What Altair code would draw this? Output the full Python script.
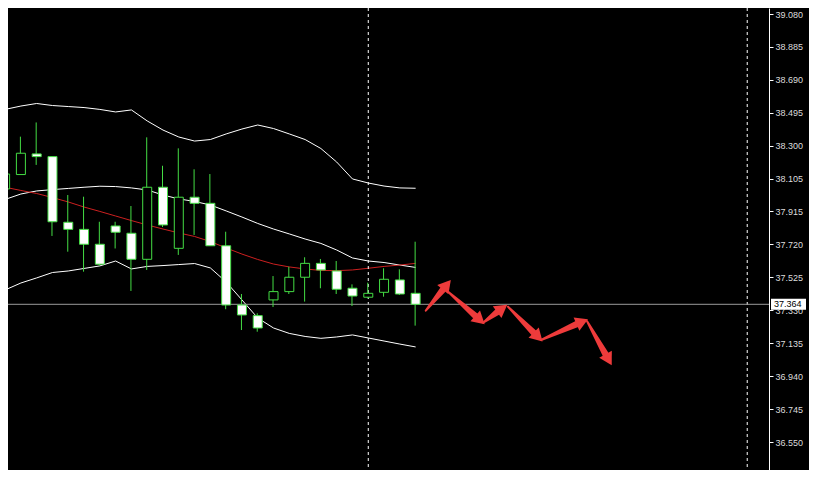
import math
import altair as alt
import pandas as pd

# ---------------- data ----------------
bar_index = list(range(27))
opens  = [38.046, 38.131, 38.253, 38.237, 37.849, 37.807, 37.719, 37.827, 37.784, 37.630,
          38.056, 37.695, 37.997, 37.961, 37.710, 37.360, 37.297, 37.390, 37.439, 37.524,
          37.606, 37.561, 37.459, 37.406, 37.435, 37.508, 37.429]
highs  = [38.170, 38.355, 38.439, 38.237, 38.010, 38.000, 37.852, 37.852, 37.945, 38.351,
          38.183, 38.286, 38.162, 38.134, 37.793, 37.425, 37.311, 37.531, 37.586, 37.642,
          37.632, 37.620, 37.482, 37.492, 37.577, 37.571, 37.734]
lows   = [38.028, 38.131, 38.188, 37.768, 37.675, 37.557, 37.593, 37.694, 37.443, 37.567,
          37.821, 37.656, 37.774, 37.710, 37.335, 37.212, 37.202, 37.348, 37.425, 37.380,
          37.459, 37.425, 37.354, 37.400, 37.409, 37.419, 37.238]
closes = [38.134, 38.257, 38.237, 37.852, 37.807, 37.719, 37.601, 37.790, 37.630, 38.056,
          37.833, 37.997, 37.961, 37.710, 37.360, 37.301, 37.224, 37.439, 37.524, 37.606,
          37.567, 37.453, 37.413, 37.429, 37.512, 37.425, 37.364]

bb_upper  = [38.516, 38.536, 38.551, 38.539, 38.533, 38.527, 38.516, 38.501, 38.513, 38.448,
             38.394, 38.353, 38.329, 38.338, 38.371, 38.400, 38.424, 38.403, 38.371, 38.338,
             38.285, 38.205, 38.105, 38.081, 38.063, 38.052, 38.050]
bb_middle = [37.984, 38.016, 38.034, 38.042, 38.049, 38.056, 38.062, 38.060, 38.052, 38.040,
             38.010, 37.987, 37.972, 37.951, 37.916, 37.880, 37.842, 37.809, 37.780, 37.750,
             37.724, 37.685, 37.638, 37.620, 37.611, 37.596, 37.582]
bb_lower  = [37.449, 37.490, 37.520, 37.552, 37.561, 37.576, 37.591, 37.620, 37.573, 37.588,
             37.593, 37.599, 37.605, 37.579, 37.496, 37.390, 37.283, 37.224, 37.192, 37.174,
             37.163, 37.171, 37.183, 37.165, 37.147, 37.129, 37.112]
ma_red    = [38.056, 38.037, 38.019, 37.995, 37.969, 37.939, 37.913, 37.886, 37.859, 37.833,
             37.809, 37.786, 37.765, 37.735, 37.697, 37.661, 37.629, 37.602, 37.585, 37.573,
             37.564, 37.563, 37.567, 37.577, 37.588, 37.596, 37.606]

tick_values = [39.080, 38.885, 38.690, 38.495, 38.300, 38.105, 37.915, 37.720,
               37.525, 37.330, 37.135, 36.940, 36.745, 36.550]
current_price = 37.364
separators = [23, 47]

arrow_tail_x = [26.64, 28.04, 30.27, 31.85, 33.94, 36.85]
arrow_tail_y = [37.326, 37.439, 37.255, 37.350, 37.153, 37.265]
arrow_tip_x  = [28.14, 30.27, 31.69, 33.94, 36.79, 38.35]
arrow_tip_y  = [37.498, 37.255, 37.354, 37.153, 37.271, 37.015]

# ---------------- layout / style ----------------
W, H = 761, 462
X_DOM = [0.5, 48.0625]
Y_DOM = [36.3846, 39.1155]
PX_X = W / (X_DOM[1] - X_DOM[0])
PX_Y = H / (Y_DOM[1] - Y_DOM[0])

GREEN = "#44dd44"
RED_ARROW = "#ee3b3b"
FONT = "Liberation Sans"

XS = alt.Scale(domain=X_DOM, nice=False, zero=False)
YS = alt.Scale(domain=Y_DOM, nice=False, zero=False)
AX = alt.Axis(orient="right", values=tick_values, format=".3f", title=None, grid=False,
              domainColor="white", domainWidth=1, tickColor="white", tickSize=4, tickWidth=1,
              labelColor="#dcdcdc", labelFont=FONT, labelFontSize=9, labelPadding=2,
              labelOverlap=False, zindex=0)


def X(field):
    return alt.X(field, type="quantitative", scale=XS, axis=None)


def Y(field):
    return alt.Y(field, type="quantitative", scale=YS, axis=AX)


candles = pd.DataFrame({"i": bar_index, "o": opens, "h": highs, "l": lows, "c": closes})

lines_df = pd.DataFrame({
    "i": bar_index * 4,
    "v": bb_upper + bb_middle + bb_lower + ma_red,
    "s": ["upper"] * 27 + ["middle"] * 27 + ["lower"] * 27 + ["ma"] * 27,
})

bands = alt.Chart(lines_df[lines_df.s != "ma"]).mark_line(
    color="white", strokeWidth=1, clip=True
).encode(x=X("i"), y=Y("v"), detail="s:N")

ma_line = alt.Chart(lines_df[lines_df.s == "ma"]).mark_line(
    color="#cc2020", strokeWidth=1, clip=True
).encode(x=X("i"), y=Y("v"))

sep = alt.Chart(pd.DataFrame({"i": separators})).mark_rule(
    color="white", strokeWidth=1, strokeDash=[3, 3]
).encode(x=X("i"))

price_line = alt.Chart(pd.DataFrame({"p": [current_price]})).mark_rule(
    color="#9a9a9a", strokeWidth=1
).encode(y=Y("p"))

wicks = alt.Chart(candles).mark_rule(color=GREEN, strokeWidth=1, clip=True, xOffset=-0.5).encode(
    x=X("i"), y=Y("l"), y2="h"
)

bodies = alt.Chart(candles).mark_bar(size=9, stroke=GREEN, strokeWidth=1, clip=True).encode(
    x=X("i"), y=Y("o"), y2="c",
    fill=alt.condition("datum.c > datum.o", alt.value("black"), alt.value("white")),
)

# arrows: tapered shafts (trail) and triangular heads
HEAD = 210
h = 0.866 * math.sqrt(HEAD) / 2
trail_rows, head_rows = [], []
for k in range(len(arrow_tail_x)):
    tx, ty = arrow_tail_x[k], arrow_tail_y[k]
    px, py = arrow_tip_x[k], arrow_tip_y[k]
    dx = (px - tx) * PX_X
    dy = -(py - ty) * PX_Y
    L = math.hypot(dx, dy)
    ux, uy = dx / L, dy / L
    ang = math.degrees(math.atan2(ux, -uy)) % 360
    cx = px - h * ux / PX_X
    cy = py + h * uy / PX_Y
    bx = px - 1.6 * h * ux / PX_X
    by = py + 1.6 * h * uy / PX_Y
    trail_rows.append({"a": k, "x": tx, "y": ty, "w": 2.0})
    trail_rows.append({"a": k, "x": bx, "y": by, "w": 6.5})
    head_rows.append({"a": k, "x": cx, "y": cy, "ang": ang})

shafts = alt.Chart(pd.DataFrame(trail_rows)).mark_trail(color=RED_ARROW).encode(
    x=X("x"), y=Y("y"), size=alt.Size("w:Q", scale=None, legend=None), detail="a:N"
)
heads = alt.Chart(pd.DataFrame(head_rows)).mark_point(
    shape="triangle", filled=True, size=HEAD, color=RED_ARROW, opacity=1, strokeWidth=0
).encode(x=X("x"), y=Y("y"), angle=alt.Angle("ang:Q", scale=None))

# current price tag on the axis
half = 5.5 / PX_Y
tag_df = pd.DataFrame({"p": [current_price], "p1": [current_price + half],
                       "p0": [current_price - half], "t": [f"{current_price:.3f}"]})
tag_box = alt.Chart(tag_df).mark_rect(color="white", clip=False).encode(
    x=alt.value(W + 2), x2=alt.value(W + 37), y=Y("p1"), y2="p0"
)
tag_text = alt.Chart(tag_df).mark_text(
    align="left", baseline="middle", font=FONT, fontSize=9, color="black", clip=False
).encode(x=alt.value(W + 5), y=Y("p"), text="t:N")

chart = alt.layer(
    bands, ma_line, sep, price_line, wicks, bodies, shafts, heads, tag_box, tag_text
).properties(
    width=W, height=H,
    autosize=alt.AutoSizeParams(type="none"),
    padding={"left": 0, "top": 0, "right": 40, "bottom": 0},
    background="black",
).configure_view(stroke=None)

chart.save("out.html", embed_options={"renderer": "svg", "actions": False})
